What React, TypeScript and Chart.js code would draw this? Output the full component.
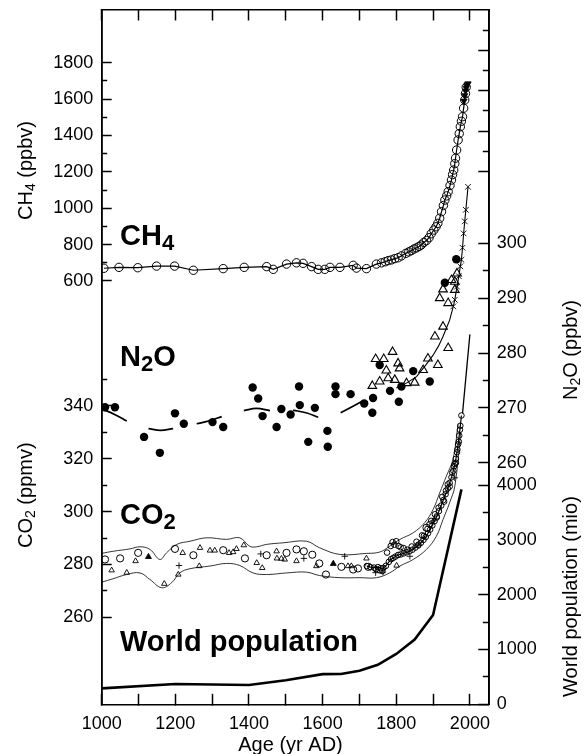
import React, { useEffect, useRef } from "react";
import { Chart, registerables } from "chart.js";

Chart.register(...registerables);

// ---------------- axis ticks ----------------
const xTickValues = [1000, 1100, 1200, 1300, 1400, 1500, 1600, 1700, 1800, 1900, 2000];
const ch4MajorTicks = [600, 800, 1000, 1200, 1400, 1600, 1800];
const ch4MinorTicks = [700, 900, 1100, 1300, 1500, 1700];
const co2MajorTicks = [260, 280, 300, 320, 340];
const co2MinorTicks = [270, 290, 310, 330, 350];
const n2oMajorTicks = [260, 270, 280, 290, 300];
const n2oMinorTicks = [265, 275, 285, 295];
const popMajorTicks = [0, 1000, 2000, 3000, 4000];
const popMinorTicks = [500, 1500, 2500, 3500];
const topRightMajorTicks = [0, 2, 4, 6];
const topRightMinorTicks = [1, 3, 5, 7];

// ---------------- CH4 (ppbv) ----------------
const ch4Years = [1006, 1047, 1098, 1149, 1198, 1249, 1330, 1387, 1448, 1466, 1502, 1529, 1547, 1570, 1588, 1606, 1620, 1647, 1683, 1692, 1719, 1746, 1760, 1770, 1778, 1787, 1796, 1805, 1814, 1826, 1834, 1841, 1848, 1855, 1862, 1868, 1875, 1882, 1889, 1895, 1902, 1908, 1913, 1918, 1923, 1928, 1932, 1937, 1941, 1946, 1950, 1953, 1956, 1959, 1961, 1964, 1968, 1971, 1974, 1977, 1980, 1983, 1986, 1988, 1990];
const ch4Values = [670, 675, 673, 682, 682, 659, 668, 675, 679, 664, 693, 700, 697, 679, 664, 664, 675, 675, 686, 671, 668, 693, 700, 706, 712, 716, 723, 728, 738, 752, 760, 767, 776, 782, 790, 798, 812, 822, 838, 860, 880, 898, 917, 945, 981, 1015, 1045, 1068, 1091, 1125, 1155, 1185, 1210, 1245, 1275, 1320, 1375, 1410, 1448, 1478, 1503, 1550, 1595, 1630, 1665];
const ch4TopYears = [1984, 1986, 1988, 1990, 1991, 1993, 1995];
const ch4TopValues = [1590, 1620, 1645, 1660, 1672, 1680, 1685];

// ---------------- N2O (ppbv) ----------------
const n2oDotYears = [1009, 1036, 1115, 1158, 1199, 1223, 1301, 1330, 1410, 1425, 1437, 1475, 1488, 1513, 1536, 1538, 1561, 1579, 1613, 1614, 1635, 1635, 1676, 1713, 1737, 1735, 1755, 1783, 1807, 1814, 1846, 1891, 1932, 1963];
const n2oDotValues = [270.1, 270.1, 264.7, 261.8, 269.0, 267.1, 267.4, 266.5, 273.7, 271.7, 268.5, 266.5, 269.8, 268.8, 273.9, 270.5, 263.8, 270.0, 265.8, 262.9, 273.9, 272.5, 272.5, 270.8, 271.8, 269.1, 277.8, 273.1, 271.1, 273.9, 276.7, 274.8, 292.8, 297.1];
const n2oTriYears = [1735, 1744, 1755, 1766, 1773, 1778, 1790, 1796, 1805, 1809, 1828, 1850, 1873, 1886, 1905, 1913, 1918, 1927, 1927, 1941, 1941, 1950, 1959, 1959, 1965];
const n2oTriValues = [274.0, 278.9, 274.8, 278.9, 276.8, 275.4, 280.2, 275.1, 278.1, 277.2, 274.5, 274.6, 276.9, 279.0, 283.0, 277.8, 290.0, 284.8, 291.6, 280.9, 289.1, 293.3, 293.0, 291.5, 294.5];
const n2oFitYears = [1000, 1035, 1068, 1100, 1127, 1160, 1194, 1230, 1258, 1290, 1326, 1360, 1386, 1420, 1457, 1490, 1520, 1555, 1588, 1620, 1649, 1680, 1710];
const n2oFitValues = [269.8, 268.8, 267.6, null, 266.2, 265.9, 266.2, null, 267.1, 267.6, 268.4, null, 269.5, 269.9, 269.5, null, 269.6, 269.1, 268.3, null, 269.1, 270.2, 271.3];
const n2oLineYears = [1800, 1830, 1855, 1880, 1900, 1915, 1927, 1945, 1955, 1959, 1965, 1970, 1974, 1977, 1980, 1983, 1986, 1989, 1995];
const n2oLineValues = [273.6, 274.6, 275.7, 277.8, 279.6, 281.3, 283.0, 286.0, 288.5, 289.7, 292.1, 294.0, 295.8, 297.0, 299.2, 301.8, 304.0, 306.1, 310.3];

// ---------------- CO2 (ppmv) ----------------
const co2UpperYears = [1000, 1031, 1077, 1104, 1131, 1158, 1176, 1204, 1240, 1285, 1339, 1375, 1402, 1421, 1448, 1493, 1556, 1592, 1647, 1719, 1755, 1782, 1810, 1846, 1877, 1900, 1918, 1936, 1954, 1968];
const co2UpperValues = [284.2, 285.0, 285.9, 286.7, 285.7, 281.9, 284.4, 287.6, 288.8, 290.1, 289.5, 290.1, 286.9, 286.7, 287.6, 288.2, 288.8, 286.3, 283.8, 284.2, 284.7, 286.9, 289.5, 292.0, 295.8, 300.8, 307.1, 313.4, 319.8, 333.0];
const co2LowerYears = [1000, 1031, 1068, 1104, 1131, 1163, 1190, 1212, 1240, 1294, 1339, 1375, 1411, 1448, 1502, 1556, 1592, 1647, 1701, 1746, 1782, 1810, 1846, 1882, 1909, 1927, 1945, 1959, 1975];
const co2LowerValues = [273.3, 274.6, 276.2, 276.8, 274.3, 271.2, 273.1, 276.8, 278.4, 279.4, 280.4, 279.6, 276.8, 276.2, 276.8, 277.1, 275.8, 275.0, 275.0, 275.0, 276.8, 279.4, 281.9, 285.7, 290.7, 297.0, 303.4, 309.6, 330.0];
const co2CircleYears = [1009, 1050, 1099, 1199, 1249, 1330, 1389, 1448, 1502, 1529, 1549, 1572, 1591, 1609, 1651, 1683, 1696, 1724, 1882];
const co2CircleValues = [281.9, 282.3, 284.4, 285.9, 283.5, 285.4, 282.3, 283.5, 284.4, 285.7, 285.0, 283.7, 280.4, 276.2, 279.1, 278.1, 278.5, 279.1, 293.9];
const co2TriYears = [1027, 1068, 1092, 1170, 1208, 1220, 1265, 1267, 1294, 1307, 1346, 1357, 1366, 1386, 1421, 1436, 1475, 1476, 1488, 1497, 1529, 1583, 1669, 1678, 1719, 1801];
const co2TriValues = [277.8, 276.9, 281.3, 272.7, 276.2, 284.4, 279.4, 286.3, 285.3, 285.3, 284.4, 284.7, 285.9, 287.3, 280.6, 278.7, 285.0, 282.3, 282.2, 281.9, 281.3, 279.4, 279.4, 279.4, 282.3, 279.6];
const co2FilledTriYears = [1127, 1629];
const co2FilledTriValues = [282.9, 280.3];
const co2PlusYears = [1210, 1432, 1549, 1660, 1744, 1764, 1837, 1900, 1959];
const co2PlusValues = [279.6, 284.0, 282.3, 283.1, 276.9, 277.1, 283.1, 296.5, 312.8];
const co2CoreYears = [1720, 1730, 1740, 1750, 1758, 1765, 1772, 1780, 1786, 1792, 1798, 1805, 1812, 1820, 1828, 1836, 1844, 1852, 1860, 1867, 1874, 1880, 1886, 1892, 1898, 1904, 1910, 1916, 1922, 1928, 1934, 1940, 1945, 1950, 1955, 1959, 1962, 1965, 1968, 1971, 1974, 1977];
const co2CoreValues = [279.4, 279.0, 278.8, 279.0, 278.6, 278.7, 279.5, 281.0, 282.0, 282.5, 283.0, 283.6, 283.8, 284.2, 284.6, 285.0, 285.6, 286.4, 287.2, 288.2, 289.3, 290.4, 291.8, 293.2, 294.8, 296.4, 298.2, 300.2, 302.3, 304.4, 306.6, 308.8, 310.9, 313.0, 315.5, 318.0, 320.0, 322.5, 325.5, 328.8, 332.5, 336.4];
const co2SpreadYears = [1745, 1755, 1762, 1775, 1785, 1790, 1795, 1800, 1806, 1812, 1820, 1830, 1842, 1855, 1860, 1870, 1875, 1885, 1890, 1895, 1905, 1910, 1915, 1925, 1930, 1935, 1940, 1945, 1952, 1957, 1962, 1966, 1970, 1973];
const co2SpreadValues = [278.2, 277.8, 277.5, 284.5, 287.0, 288.5, 287.5, 288.8, 287.0, 286.5, 286.2, 285.6, 286.8, 288.6, 287.5, 291.0, 290.8, 293.5, 295.2, 296.5, 299.0, 297.8, 301.5, 305.6, 303.8, 307.9, 310.3, 309.5, 314.8, 317.2, 318.5, 323.5, 326.5, 331.0];
const co2InstrYears = [1980, 2000];
const co2InstrValues = [337.2, 367.1];

// ---------------- World population (mio) ----------------
const popYears = [1000, 1200, 1400, 1500, 1600, 1650, 1700, 1750, 1800, 1850, 1900, 1977];
const popValues = [290, 370, 352, 440, 550, 553, 613, 720, 918, 1180, 1630, 3920];

// ---------------- layout ----------------
const W = 587;
const H = 754;
const AREA = { left: 101.7, right: 488.3, top: 10, bottom: 704.3 };
const FONT = '"Liberation Sans", Arial, Helvetica, sans-serif';
const TICK_FONT_SIZE = 18;

function rangeFor(v1: number, p1: number, v2: number, p2: number) {
  const k = (p1 - p2) / (v2 - v1);
  return { min: v1 - (AREA.bottom - p1) / k, max: v2 + (p2 - AREA.top) / k };
}

const pts = (xs: number[], ys: (number | null)[]) => xs.map((x, i) => ({ x, y: ys[i] }));

function zeroFit(s: any) {
  if (s.isHorizontal()) s.height = 0; else s.width = 0;
  s.paddingLeft = 0; s.paddingRight = 0; s.paddingTop = 0; s.paddingBottom = 0;
}

function yAxis(position: string, range: { min: number; max: number }, tickArr: number[], major: boolean, labels: boolean) {
  return {
    type: "linear",
    position,
    min: range.min,
    max: range.max,
    afterBuildTicks: (s: any) => { s.ticks = tickArr.map((v) => ({ value: v })); },
    afterFit: zeroFit,
    grid: { drawOnChartArea: false, drawTicks: true, tickLength: major ? -10 : -5.5, tickWidth: 1.5, tickColor: "#000", color: "#000" },
    border: { display: major, color: "#000", width: 1.6 },
    ticks: { display: labels, padding: 18.5, autoSkip: false, color: "#000", font: { family: FONT, size: TICK_FONT_SIZE }, callback: (v: any) => String(v) },
  };
}

// widen the (zero-width) axis boxes after layout so tick labels are not clipped
const axisBoxPlugin = {
  id: "axisBoxes",
  afterLayout(chart: any) {
    const ca = chart.chartArea;
    for (const s of Object.values(chart.scales) as any[]) {
      const pos = s.options.position;
      if (pos === "left") { s.left = 0; s.right = ca.left; s.width = ca.left; }
      else if (pos === "right") { s.left = ca.right; s.right = chart.width; s.width = chart.width - ca.right; }
      else if (pos === "bottom") { s.top = ca.bottom; s.bottom = chart.height; s.height = chart.height - ca.bottom; }
      else if (pos === "top") { s.top = 0; s.bottom = ca.top; s.height = ca.top; }
    }
  },
};

type Part = { t: string; sub?: boolean };
function rich(ctx: CanvasRenderingContext2D, parts: Part[], x: number, y: number, size: number, weight: string, rot: number, center = false) {
  ctx.save();
  ctx.translate(x, y);
  ctx.rotate(rot);
  ctx.textAlign = "left";
  ctx.textBaseline = "alphabetic";
  const subScale = weight === "bold" ? 0.76 : 0.7;
  const fontFor = (p: Part) => `${weight} ${p.sub ? size * subScale : size}px ${FONT}`;
  let total = 0;
  for (const p of parts) { ctx.font = fontFor(p); total += ctx.measureText(p.t).width; }
  let cx = center ? -total / 2 : 0;
  for (const p of parts) {
    ctx.font = fontFor(p);
    ctx.fillText(p.t, cx, p.sub ? size * 0.16 : 0);
    cx += ctx.measureText(p.t).width;
  }
  ctx.restore();
}

const textPlugin = {
  id: "textLabels",
  afterDraw(chart: any) {
    const ctx = chart.ctx as CanvasRenderingContext2D;
    ctx.save();
    ctx.fillStyle = "#000";
    // series labels
    rich(ctx, [{ t: "CH" }, { t: "4", sub: true }], 120, 245, 29, "bold", 0);
    rich(ctx, [{ t: "N" }, { t: "2", sub: true }, { t: "O" }], 120, 366, 29, "bold", 0);
    rich(ctx, [{ t: "CO" }, { t: "2", sub: true }], 120, 524, 29, "bold", 0);
    rich(ctx, [{ t: "World population" }], 120, 651, 29, "bold", 0);
    // axis titles
    rich(ctx, [{ t: "CH" }, { t: "4", sub: true }, { t: " (ppbv)" }], 31.5, 220, 20, "normal", -Math.PI / 2);
    rich(ctx, [{ t: "CO" }, { t: "2", sub: true }, { t: " (ppmv)" }], 31.5, 548, 20, "normal", -Math.PI / 2);
    rich(ctx, [{ t: "N" }, { t: "2", sub: true }, { t: "O (ppbv)" }], 576.5, 400, 20, "normal", -Math.PI / 2);
    rich(ctx, [{ t: "World population (mio)" }], 576.5, 697, 20, "normal", -Math.PI / 2);
    rich(ctx, [{ t: "Age (yr AD)" }], 290.5, 751, 20, "normal", 0, true);
    ctx.restore();
  },
};

const OPEN = "rgba(0,0,0,0)";

export default function App() {
  const ref = useRef<HTMLCanvasElement | null>(null);

  useEffect(() => {
    if (!ref.current) return;
    const ch4Range = rangeFor(600, 281, 1800, 62.7);
    const co2Range = rangeFor(260, 617.3, 340, 406);
    const n2oRange = rangeFor(260, 462.7, 300, 243.3);
    const popRange = rangeFor(0, 704.3, 4000, 485);
    const trRange = rangeFor(0, 171.7, 7, 30);

    const xCommon = {
      type: "linear",
      min: 1000,
      max: 2050,
      afterBuildTicks: (s: any) => { s.ticks = xTickValues.map((v) => ({ value: v })); },
      afterFit: zeroFit,
      grid: { drawOnChartArea: false, drawTicks: true, tickLength: -10.5, tickWidth: 1.5, tickColor: "#000", color: "#000" },
      border: { display: true, color: "#000", width: 1.6 },
    };

    const n2oCrossRadius = n2oLineYears.map((y) => (y >= 1955 ? 4 : 0));

    const chart = new Chart(ref.current, {
      type: "line",
      data: {
        datasets: [
          { label: "World population", data: pts(popYears, popValues), yAxisID: "yPop", xAxisID: "x", borderColor: "#000", borderWidth: 2.6, pointRadius: 0 },
          { label: "CO2 upper", data: pts(co2UpperYears, co2UpperValues), yAxisID: "yCO2", xAxisID: "x", borderColor: "#000", borderWidth: 0.8, pointRadius: 0, tension: 0.4 },
          { label: "CO2 lower", data: pts(co2LowerYears, co2LowerValues), yAxisID: "yCO2", xAxisID: "x", borderColor: "#000", borderWidth: 0.8, pointRadius: 0, tension: 0.4 },
          { label: "CO2 instrumental", data: pts(co2InstrYears, co2InstrValues), yAxisID: "yCO2", xAxisID: "x", borderColor: "#000", borderWidth: 1.3, pointRadius: 0 },
          { label: "CO2 core", data: pts(co2CoreYears, co2CoreValues), yAxisID: "yCO2", xAxisID: "x", borderColor: "#000", borderWidth: 1.2, pointRadius: 2.8, pointBorderWidth: 1, pointBorderColor: "#000", pointBackgroundColor: OPEN },
          { label: "CO2 spread", data: pts(co2SpreadYears, co2SpreadValues), yAxisID: "yCO2", xAxisID: "x", showLine: false, pointRadius: 2.8, pointBorderWidth: 1, pointBorderColor: "#000", pointBackgroundColor: OPEN },
          { label: "CO2 circles", data: pts(co2CircleYears, co2CircleValues), yAxisID: "yCO2", xAxisID: "x", showLine: false, pointRadius: 3.6, pointBorderWidth: 1, pointBorderColor: "#000", pointBackgroundColor: OPEN },
          { label: "CO2 triangles", data: pts(co2TriYears, co2TriValues), yAxisID: "yCO2", xAxisID: "x", showLine: false, pointStyle: "triangle", pointRadius: 3.2, pointBorderWidth: 0.9, pointBorderColor: "#000", pointBackgroundColor: OPEN },
          { label: "CO2 filled triangles", data: pts(co2FilledTriYears, co2FilledTriValues), yAxisID: "yCO2", xAxisID: "x", showLine: false, pointStyle: "triangle", pointRadius: 3.4, pointBorderWidth: 0.9, pointBorderColor: "#000", pointBackgroundColor: "#000" },
          { label: "CO2 plus", data: pts(co2PlusYears, co2PlusValues), yAxisID: "yCO2", xAxisID: "x", showLine: false, pointStyle: "cross", pointRadius: 3.2, pointBorderWidth: 0.9, pointBorderColor: "#000" },
          { label: "N2O fit", data: pts(n2oFitYears, n2oFitValues), yAxisID: "yN2O", xAxisID: "x", borderColor: "#000", borderWidth: 1.7, pointRadius: 0, tension: 0.4, spanGaps: false },
          { label: "N2O line", data: pts(n2oLineYears, n2oLineValues), yAxisID: "yN2O", xAxisID: "x", borderColor: "#000", borderWidth: 1.1, pointStyle: "crossRot", pointRadius: n2oCrossRadius, pointBorderWidth: 0.9, pointBorderColor: "#000" },
          { label: "N2O triangles", data: pts(n2oTriYears, n2oTriValues), yAxisID: "yN2O", xAxisID: "x", showLine: false, pointStyle: "triangle", pointRadius: 5, pointBorderWidth: 1.1, pointBorderColor: "#000", pointBackgroundColor: OPEN },
          { label: "N2O dots", data: pts(n2oDotYears, n2oDotValues), yAxisID: "yN2O", xAxisID: "x", showLine: false, pointRadius: 4.2, pointBorderWidth: 0, pointBackgroundColor: "#000" },
          { label: "CH4", data: pts(ch4Years, ch4Values), yAxisID: "yCH4", xAxisID: "x", borderColor: "#000", borderWidth: 1.2, pointRadius: 4.2, pointBorderWidth: 1, pointBorderColor: "#000", pointBackgroundColor: OPEN },
          { label: "CH4 recent", data: pts(ch4TopYears, ch4TopValues), yAxisID: "yCH4", xAxisID: "x", showLine: false, pointStyle: "triangle", pointRotation: 180, pointRadius: 3.6, pointBorderWidth: 0.8, pointBorderColor: "#000", pointBackgroundColor: "#000" },
        ],
      },
      options: {
        responsive: false,
        maintainAspectRatio: false,
        animation: false,
        devicePixelRatio: 1,
        layout: { padding: { left: AREA.left, right: W - AREA.right, top: AREA.top, bottom: H - AREA.bottom } },
        plugins: { legend: { display: false }, tooltip: { enabled: false }, title: { display: false } },
        elements: { line: { tension: 0, fill: false } },
        scales: {
          x: { ...xCommon, position: "bottom", ticks: { display: true, padding: 19.5, autoSkip: false, maxRotation: 0, color: "#000", font: { family: FONT, size: TICK_FONT_SIZE }, callback: (v: any) => (Number(v) % 200 === 0 ? String(v) : "") } },
          xTop: { ...xCommon, position: "top", ticks: { display: false } },
          yCH4: yAxis("left", ch4Range, ch4MajorTicks, true, true),
          yCH4m: yAxis("left", ch4Range, ch4MinorTicks, false, false),
          yCO2: yAxis("left", co2Range, co2MajorTicks, true, true),
          yCO2m: yAxis("left", co2Range, co2MinorTicks, false, false),
          yN2O: yAxis("right", n2oRange, n2oMajorTicks, true, true),
          yN2Om: yAxis("right", n2oRange, n2oMinorTicks, false, false),
          yPop: yAxis("right", popRange, popMajorTicks, true, true),
          yPopm: yAxis("right", popRange, popMinorTicks, false, false),
          yTR: yAxis("right", trRange, topRightMajorTicks, true, false),
          yTRm: yAxis("right", trRange, topRightMinorTicks, false, false),
        } as any,
      },
      plugins: [axisBoxPlugin, textPlugin],
    } as any);
    return () => chart.destroy();
  }, []);

  return (
    <div style={{ position: "fixed", left: 0, top: 0, width: W, height: H, background: "#fff" }}>
      <canvas ref={ref} width={W} height={H} style={{ display: "block", width: W, height: H }} />
    </div>
  );
}
